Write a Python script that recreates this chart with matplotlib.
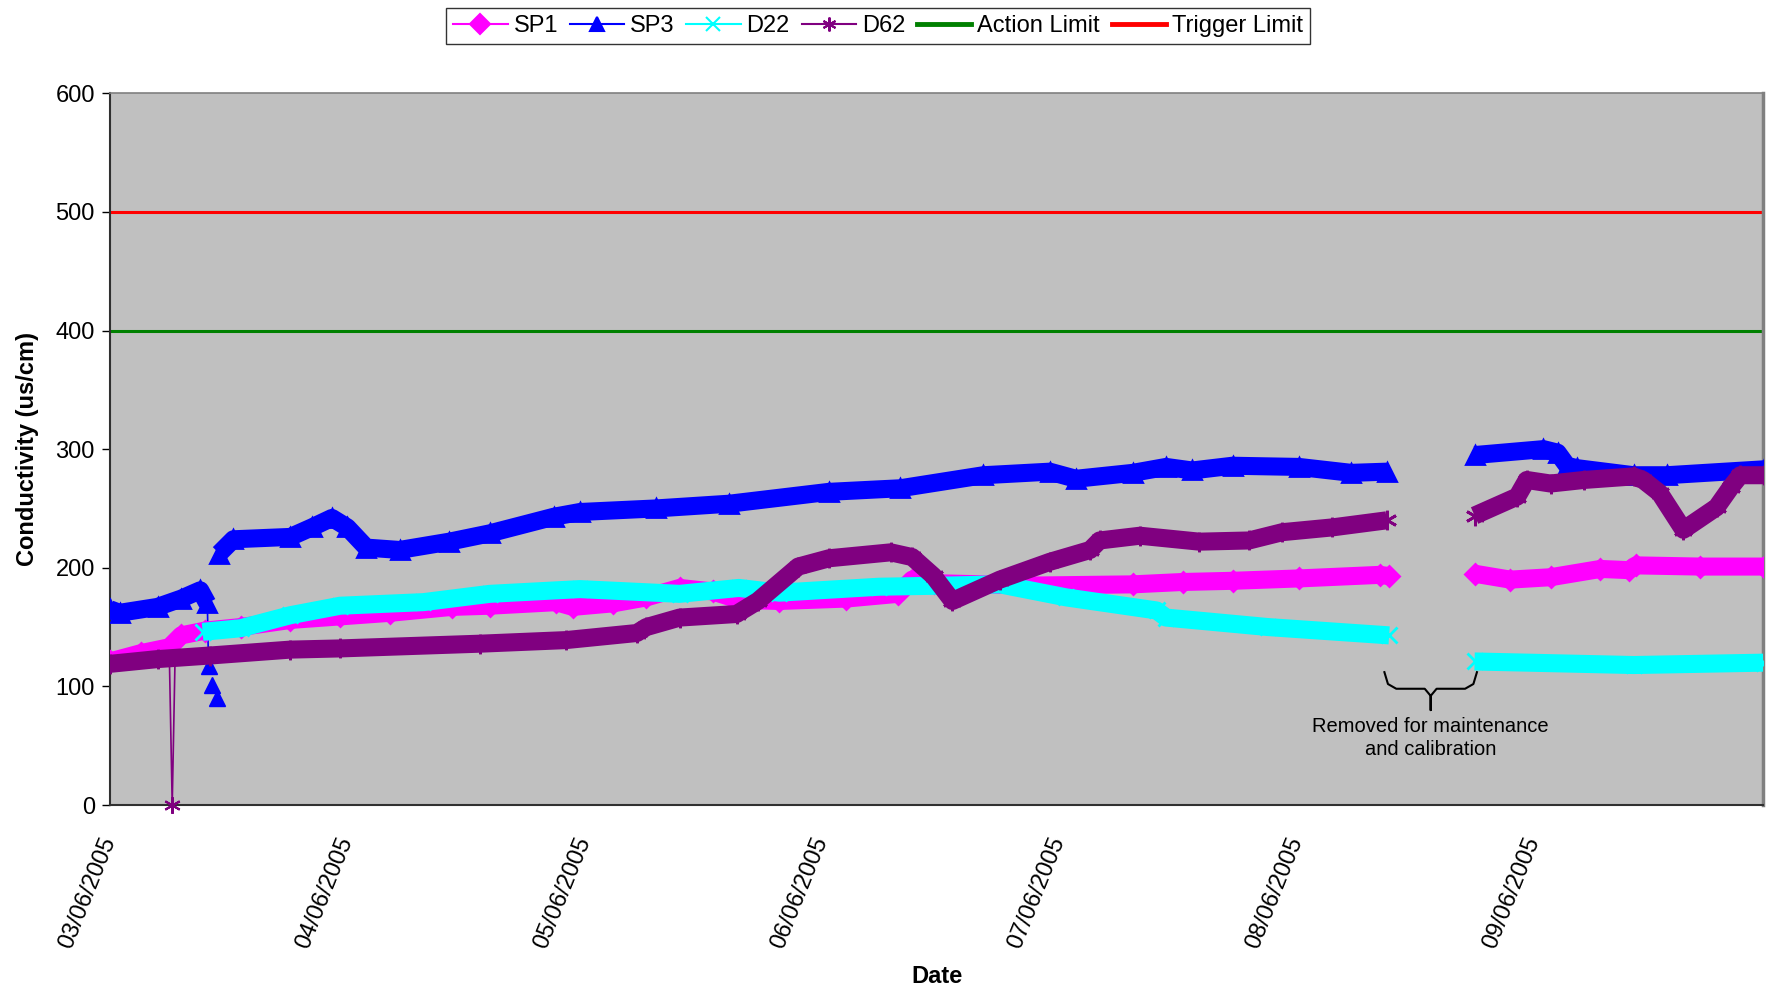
import numpy as np
import pandas as pd
import matplotlib
matplotlib.use('Agg')
import matplotlib.pyplot as plt
import matplotlib.dates as mdates
from matplotlib.lines import Line2D

plt.rcParams['font.family'] = ['Liberation Sans', 'DejaVu Sans']

start = pd.Timestamp('2005-06-03')
t0 = mdates.date2num(start)

# Données (jours depuis le 03/06/2005, uS/cm)
sp3_days = [0.0, 0.04, 0.2, 0.3, 0.38, 0.41, np.nan,
            0.46, 0.52, 0.76, 0.85, 0.935, 1.0, 1.08, 1.22, 1.43, 1.6, 1.87, 1.98,
            2.3, 2.61, 3.03, 3.33, 3.68, 3.96, 4.07, 4.31, 4.45, 4.56, 4.73,
            5.01, 5.23, 5.38, np.nan,
            5.75, 6.04, 6.10, 6.14, 6.18, 6.42, 6.56, 6.97]
sp3_vals = [165, 162, 167, 174, 181, 170, np.nan,
            212, 224, 226, 234, 242, 234, 217, 215, 222, 229, 243, 247,
            250, 254, 264, 267, 278, 281, 275, 280, 285, 282, 286,
            285, 280, 281, np.nan,
            295, 300, 297, 286, 284, 278, 278, 283]
sp3_drop_days = [0.41, 0.415, 0.43, 0.45]
sp3_drop_vals = [170, 117, 101, 90]

sp1_days = [0.0, 0.13, 0.25, 0.3, 0.4, 0.55, 0.76, 0.97, 1.18, 1.44, 1.6, 1.88, 1.95,
            2.12, 2.26, 2.4, 2.54, 2.65, 2.82, 3.1, 3.32, 3.38, 3.47, 3.89,
            4.31, 4.52, 4.73, 5.01, 5.35, 5.39, np.nan,
            5.75, 5.9, 6.07, 6.28, 6.4, 6.43, 6.7, 6.97]
sp1_vals = [121, 128, 133, 143, 147, 150, 156, 159, 162, 167, 168, 171, 167,
            170, 175, 183, 180, 173, 172, 174, 178, 190, 187, 185,
            186, 188, 189, 191, 194, 193, np.nan,
            195, 190, 192, 199, 198, 202, 201, 201]

d22_days = [0.39, 0.55, 0.76, 0.97, 1.32, 1.6, 1.98, 2.4, 2.65, 2.82, 3.24, 3.53,
            3.75, 4.03, 4.41, 4.45, 4.88, 5.39, np.nan,
            5.75, 6.42, 6.97]
d22_vals = [146, 149, 160, 168, 171, 178, 182, 178, 183, 179, 184, 185,
            186, 175, 164, 158, 150, 143, np.nan,
            121, 118, 120]

d62_days = [0.0, 0.2, 0.42, 0.76, 0.97, 1.56, 1.92, 2.22, 2.26, 2.4, 2.64, 2.73,
            2.9, 3.03, 3.29, 3.38, 3.47, 3.55, 3.75, 3.96, 4.13, 4.17, 4.34,
            4.59, 4.8, 4.94, 5.15, 5.38, np.nan,
            5.75, 5.93, 5.97, 6.07, 6.21, 6.42, 6.46, 6.53, 6.63, 6.77, 6.83, 6.87, 6.97]
d62_vals = [119, 123, 126, 131, 132, 136, 139, 145, 150, 158, 161, 172,
            201, 208, 213, 209, 193, 172, 190, 205, 215, 223, 227,
            222, 223, 230, 234, 240, np.nan,
            244, 260, 274, 271, 274, 277, 274, 263, 232, 251, 268, 278, 278]
d62_spike_days = [0.25, 0.262, 0.274]
d62_spike_vals = [124, 0, 124]

action_limit = 400
trigger_limit = 500

series = [
    ('SP1', sp1_days, sp1_vals, '#FF00FF', 'D', 10),
    ('SP3', sp3_days, sp3_vals, '#0000FF', '^', 13),
    ('D22', d22_days, d22_vals, '#00FFFF', 'x', 12),
    ('D62', d62_days, d62_vals, '#800080', (6, 2, 0), 14),
]

FS = 17


def to_x(days):
    return t0 + np.asarray(days, dtype=float)


fig = plt.figure(figsize=(17.72, 9.92), dpi=100)
ax = fig.add_axes([0.0621, 0.1885, 0.9329, 0.7175])
ax.set_facecolor('#C0C0C0')

ax.axhline(action_limit, color='#008000', lw=2.2, zorder=2)
ax.axhline(trigger_limit, color='#FF0000', lw=2.2, zorder=2)

# traits fins (chute SP3, pic D62)
ax.plot(to_x(sp3_drop_days[:2]), sp3_drop_vals[:2], color='#0000FF', lw=1.2, zorder=3)
ax.plot(to_x(sp3_drop_days[1:]), sp3_drop_vals[1:], color='#0000FF', lw=0,
        marker='^', ms=12, zorder=3)
ax.plot(to_x(d62_spike_days), d62_spike_vals, color='#800080', lw=1.2, zorder=3)
ax.plot(to_x(d62_spike_days[1:2]), d62_spike_vals[1:2], color='#800080', lw=0,
        marker=(6, 2, 0), ms=12, mew=1.5, zorder=3, clip_on=False)

handles = []
for name, days, vals, col, mk, ms in series:
    x = to_x(days)
    ax.plot(x, vals, color=col, lw=13, solid_joinstyle='round', solid_capstyle='butt', zorder=4)
    ax.plot(x, vals, color=col, lw=0, marker=mk, ms=ms, mew=2, zorder=4)
    handles.append(Line2D([], [], color=col, lw=1.5, marker=mk, ms=10, mew=1.5))
handles.append(Line2D([], [], color='#008000', lw=3.5))
handles.append(Line2D([], [], color='#FF0000', lw=3.5))

ax.set_xlim(t0, t0 + 6.966)
ax.set_ylim(0, 600)
ax.set_yticks(range(0, 601, 100))
ax.xaxis.set_major_locator(mdates.DayLocator())
ax.xaxis.set_major_formatter(mdates.DateFormatter('%d/%m/%Y'))
plt.setp(ax.get_xticklabels(), rotation=68, ha='right', va='center', rotation_mode='anchor')
ax.tick_params(axis='x', length=0, pad=24, labelsize=FS)
ax.tick_params(axis='y', length=6, width=1, direction='out', labelsize=FS, pad=5)

for s in ['left', 'bottom']:
    ax.spines[s].set_color('#303030')
    ax.spines[s].set_linewidth(1.5)
ax.spines['top'].set_color('#808080')
ax.spines['top'].set_linewidth(1.2)
ax.spines['right'].set_color('#808080')
ax.spines['right'].set_linewidth(2.5)

ax.set_ylabel('Conductivity (us/cm)', fontsize=FS, fontweight='bold', labelpad=12)
fig.text(0.529, 0.016, 'Date', fontsize=FS, fontweight='bold', ha='center', va='center')

# accolade et annotation
brace_days = [5.37, 5.385, 5.42, 5.54, 5.565, 5.565, 5.565, 5.59, 5.71, 5.745, 5.76]
brace_vals = [112, 102, 98, 98, 92, 80, 92, 98, 98, 102, 112]
ax.plot(to_x(brace_days), brace_vals, color='black', lw=1.5, zorder=5)
ax.text(t0 + 5.565, 74, 'Removed for maintenance\nand calibration', ha='center', va='top',
        fontsize=14.5, linespacing=1.25, zorder=5)

leg = fig.legend(handles, ['SP1', 'SP3', 'D22', 'D62', 'Action Limit', 'Trigger Limit'],
                 loc='upper center', bbox_to_anchor=(0.4955, 1.004), ncol=6, fontsize=FS,
                 frameon=True, fancybox=False, edgecolor='black', handlelength=2.3,
                 handletextpad=0.25, columnspacing=0.5, borderpad=0.3)
leg.get_frame().set_linewidth(1.0)

fig.savefig('out.png', dpi=100)
